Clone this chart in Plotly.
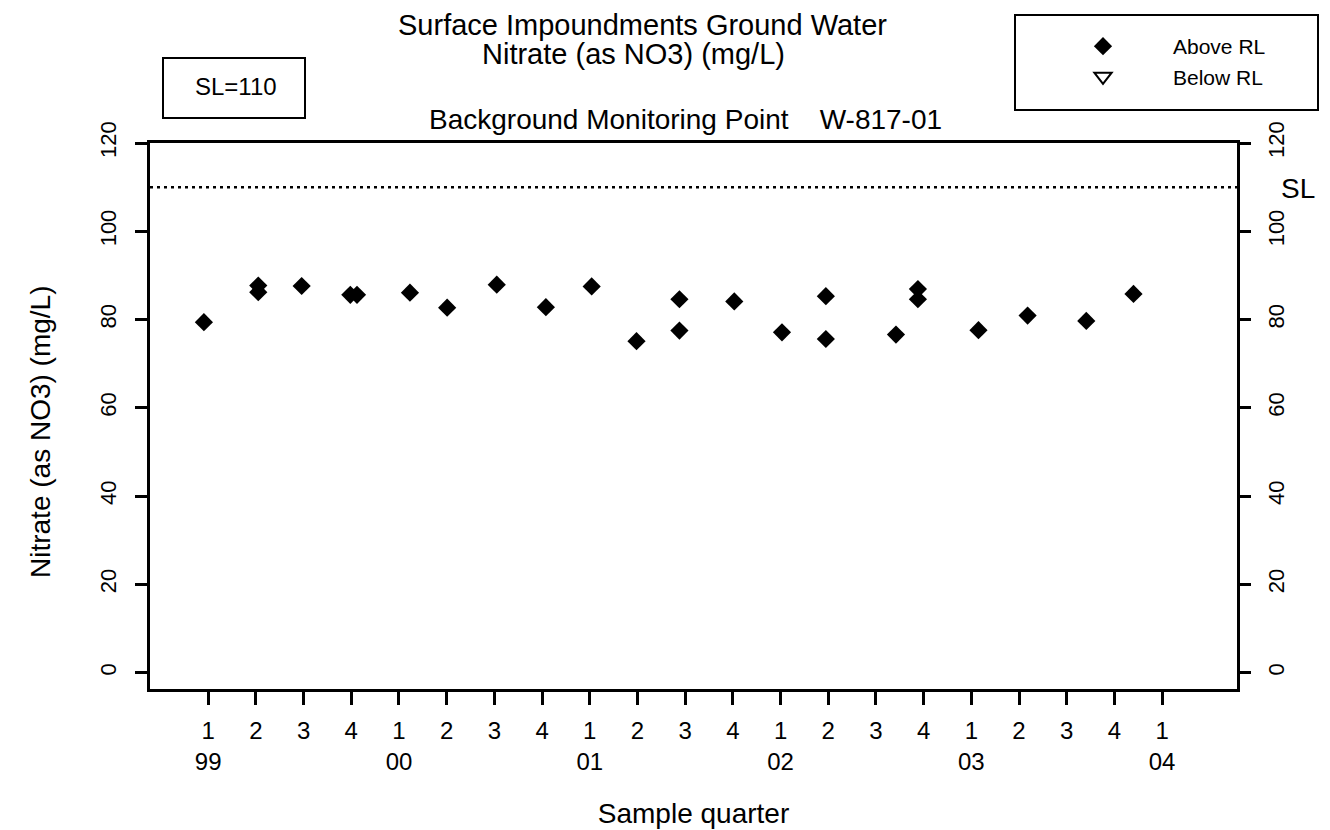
import plotly.graph_objects as go

# ---- data ----
quarter_labels = ["1", "2", "3", "4"] * 5 + ["1"]
year_labels = ["99", "00", "01", "02", "03", "04"]
quarter_ticks = list(range(21))  # 0 = 1999 Q1 ... 20 = 2004 Q1

# sample time expressed in quarters since 1999 Q1
sample_pos = [-0.09, 1.05, 1.05, 1.96, 2.98, 3.12, 4.23, 5.01, 6.05, 7.08,
              8.04, 8.98, 9.88, 9.88, 11.03, 12.03, 12.95, 12.95, 14.42,
              14.88, 14.88, 16.15, 17.18, 18.41, 19.40]
nitrate_above = [79.4, 87.7, 86.2, 87.6, 85.6, 85.6, 86.1, 82.7, 87.9, 82.8,
                 87.5, 75.1, 84.6, 77.5, 84.1, 77.1, 85.3, 75.6, 76.6,
                 86.9, 84.6, 77.6, 80.9, 79.7, 85.8]
below_pos = []
below_vals = []
sl_value = 110
y_ticks = [0, 20, 40, 60, 80, 100, 120]

ticktext = []
for i, q in enumerate(quarter_labels):
    if q == "1":
        ticktext.append(q + "<br>" + year_labels[i // 4])
    else:
        ticktext.append(q)

FONT = "Liberation Sans, Arial, Helvetica, sans-serif"
BLACK = "#000000"

# plot-area geometry on the page (the page body has an 8px margin)
PAGE_OFF = 8
PL, PR, PT, PB = 150, 1237, 143, 689   # plot area edges as seen on the page
PW, PH = PR - PL, PB - PT


def px(xp):
    return (xp - PL) / PW


def py(yp):
    return (PB - yp) / PH


fig = go.Figure()
fig.add_trace(go.Scatter(
    x=sample_pos, y=nitrate_above, mode="markers", name="Above RL",
    marker=dict(symbol="diamond", size=14, color=BLACK),
    legendgroup="a"))
fig.add_trace(go.Scatter(
    x=below_pos if below_pos else [None], y=below_vals if below_vals else [None],
    mode="markers", name="Below RL",
    marker=dict(symbol="triangle-down-open", size=15, color=BLACK,
                line=dict(width=2, color=BLACK)),
    legendgroup="b"))
fig.add_trace(go.Scatter(x=[None], y=[None], yaxis="y2", showlegend=False,
                         hoverinfo="skip"))

# SL dotted line
fig.add_shape(type="line", xref="paper", x0=0, x1=1, yref="y", y0=sl_value, y1=sl_value,
              line=dict(color=BLACK, width=2.5, dash="3px,4px"))

# SL box
fig.add_shape(type="rect", xref="paper", yref="paper",
              x0=px(163), x1=px(305), y0=py(118), y1=py(58),
              line=dict(color=BLACK, width=2))
fig.add_annotation(text="SL=110", xref="paper", yref="paper", x=px(236), y=py(87),
                   showarrow=False, font=dict(family=FONT, size=24, color=BLACK),
                   xanchor="center", yanchor="middle")

# legend box
fig.add_shape(type="rect", xref="paper", yref="paper",
              x0=px(1015), x1=px(1318), y0=py(110), y1=py(15),
              line=dict(color=BLACK, width=2))

# titles
fig.add_annotation(text="Surface Impoundments Ground Water", xref="paper", yref="paper",
                   x=px(642), y=py(25), showarrow=False, xanchor="center", yanchor="middle",
                   font=dict(family=FONT, size=29, color=BLACK))
fig.add_annotation(text="Nitrate (as NO3) (mg/L)", xref="paper", yref="paper",
                   x=px(633), y=py(54), showarrow=False, xanchor="center", yanchor="middle",
                   font=dict(family=FONT, size=29, color=BLACK))
fig.add_annotation(text="Background Monitoring Point    W-817-01", xref="paper", yref="paper",
                   x=px(685), y=py(120), showarrow=False, xanchor="center", yanchor="middle",
                   font=dict(family=FONT, size=28, color=BLACK))
fig.add_annotation(text="Nitrate (as NO3) (mg/L)", xref="paper", yref="paper",
                   x=px(40), y=py(432), textangle=-90,
                   showarrow=False, xanchor="center", yanchor="middle",
                   font=dict(family=FONT, size=28, color=BLACK))
fig.add_annotation(text="SL", xref="paper", yref="paper",
                   x=px(1298), y=py(188),
                   showarrow=False, xanchor="center", yanchor="middle",
                   font=dict(family=FONT, size=28, color=BLACK))

axis_common = dict(showgrid=False, zeroline=False, showline=True, linecolor=BLACK,
                   linewidth=2.5, ticks="outside", tickcolor=BLACK, tickwidth=2.5)

fig.update_layout(
    width=1330, height=830,
    margin=dict(l=PL - PAGE_OFF, r=1330 - (PR - PAGE_OFF),
                t=PT - PAGE_OFF, b=830 - (PB - PAGE_OFF)),
    paper_bgcolor="white", plot_bgcolor="white",
    showlegend=True,
    legend=dict(x=px(1033), y=py(26), xanchor="left", yanchor="top",
                bgcolor="rgba(0,0,0,0)", borderwidth=0, itemwidth=130,
                font=dict(family=FONT, size=21, color=BLACK), tracegroupgap=0),
    xaxis=dict(range=[-1.22, 21.57], tickvals=quarter_ticks, ticktext=ticktext,
               ticklen=13, mirror=True, ticklabelstandoff=5,
               tickfont=dict(family=FONT, size=24, color=BLACK),
               title=dict(text="Sample quarter", standoff=30,
                          font=dict(family=FONT, size=28, color=BLACK)),
               **axis_common),
    yaxis=dict(range=[-3.7, 120], tickvals=y_ticks, tickangle=-90, ticklen=12,
               ticklabelstandoff=10,
               tickfont=dict(family=FONT, size=22, color=BLACK), **axis_common),
    yaxis2=dict(range=[-3.7, 120], tickvals=y_ticks, tickangle=-90, ticklen=11,
                overlaying="y", side="right", ticklabelstandoff=7,
                tickfont=dict(family=FONT, size=22, color=BLACK), **axis_common),
)

fig.write_html("out.html")
